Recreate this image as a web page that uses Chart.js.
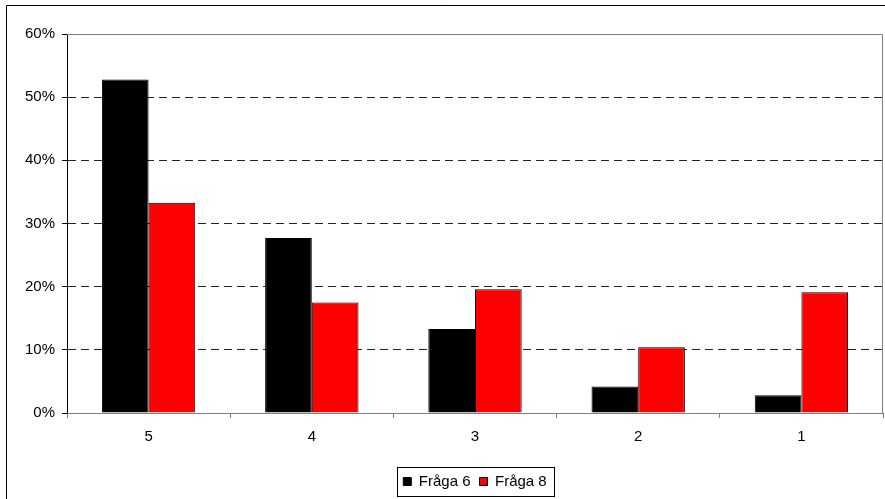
<!DOCTYPE html>
<html>
<head>
<meta charset="utf-8">
<script src="https://cdn.jsdelivr.net/npm/chart.js@4/dist/chart.umd.min.js"></script>
<style>
  html, body { margin: 0; padding: 0; background: #fff; }
  #wrap { width: 885px; height: 499px; }
</style>
</head>
<body>
<div id="wrap"><canvas id="c" width="885" height="499"></canvas></div>
<script>
// Answer categories (scale 5 → 1)
const categories = ['5', '4', '3', '2', '1'];
// Share of answers, percent
const fraga6 = [52.8, 27.7, 13.3, 4.2, 2.8];
const fraga8 = [33.3, 17.5, 19.6, 10.4, 19.1];
const seriesNames = ['Fråga 6', 'Fråga 8'];
// Y axis range and step, percent
const yMin = 0, yMax = 60, yStep = 10;

const FONT = { family: '"Liberation Sans", Arial, sans-serif', size: 15 };

// Outer frame, plot-area frame and the box round the legend
const framePlugin = {
  id: 'frames',
  beforeDatasetsDraw(chart) {
    const { ctx, chartArea: a } = chart;
    ctx.save();
    ctx.strokeStyle = '#808080';
    ctx.lineWidth = 1;
    ctx.beginPath();
    ctx.moveTo(a.left, a.top + 0.5);
    ctx.lineTo(a.right - 0.5, a.top + 0.5);
    ctx.lineTo(a.right - 0.5, a.bottom);
    ctx.stroke();
    ctx.restore();
  },
  afterDraw(chart) {
    const { ctx } = chart;
    ctx.save();
    ctx.strokeStyle = '#000';
    ctx.lineWidth = 1;
    ctx.beginPath();
    ctx.moveTo(6.5, chart.height);
    ctx.lineTo(6.5, 5.5);
    ctx.lineTo(chart.width, 5.5);
    ctx.stroke();

    const boxes = chart.legend && chart.legend.legendHitBoxes;
    if (boxes && boxes.length) {
      const first = boxes[0], last = boxes[boxes.length - 1];
      const left = Math.round(first.left) - 5.5;
      const right = Math.round(last.left + last.width) + 7.5;
      const mid = first.top + first.height / 2;
      const top = Math.round(mid - 14.5) + 0.5;
      const bottom = Math.round(mid + 14.5) + 0.5;
      ctx.strokeRect(left, top, right - left, bottom - top);
    }
    ctx.restore();
  }
};

new Chart(document.getElementById('c'), {
  type: 'bar',
  data: {
    labels: categories,
    datasets: [
      { label: seriesNames[0], data: fraga6, backgroundColor: '#000000', borderColor: '#000000', borderWidth: 1 },
      { label: seriesNames[1], data: fraga8, backgroundColor: '#FF0000', borderColor: '#000000', borderWidth: 1 }
    ]
  },
  options: {
    responsive: false,
    animation: false,
    layout: { padding: { left: 0, right: 2, top: 34, bottom: 0 } },
    datasets: { bar: { categoryPercentage: 0.572, barPercentage: 1.0 } },
    plugins: {
      tooltip: { enabled: false },
      legend: {
        display: true,
        position: 'bottom',
        fullSize: false,
        labels: {
          font: FONT,
          color: '#000',
          boxWidth: 8,
          boxHeight: 8,
          padding: 9
        }
      }
    },
    scales: {
      x: {
        afterFit(scale) { scale.height = 52; },
        grid: {
          display: true,
          offset: true,
          drawOnChartArea: false,
          drawTicks: true,
          tickLength: 5,
          tickColor: '#808080'
        },
        border: { display: true, color: '#808080', width: 1 },
        ticks: { font: FONT, color: '#000', padding: 10 }
      },
      y: {
        min: yMin,
        max: yMax,
        afterFit(scale) { scale.width = 67; },
        ticks: {
          stepSize: yStep,
          font: FONT,
          color: '#000',
          padding: 7,
          callback: v => v + '%'
        },
        grid: {
          color: '#222',
          lineWidth: 1,
          drawTicks: true,
          tickLength: 5,
          tickColor: '#000',
          tickBorderDash: []
        },
        border: { display: true, color: '#000', width: 1, dash: [8, 5] }
      }
    }
  },
  plugins: [framePlugin]
});
</script>
</body>
</html>
